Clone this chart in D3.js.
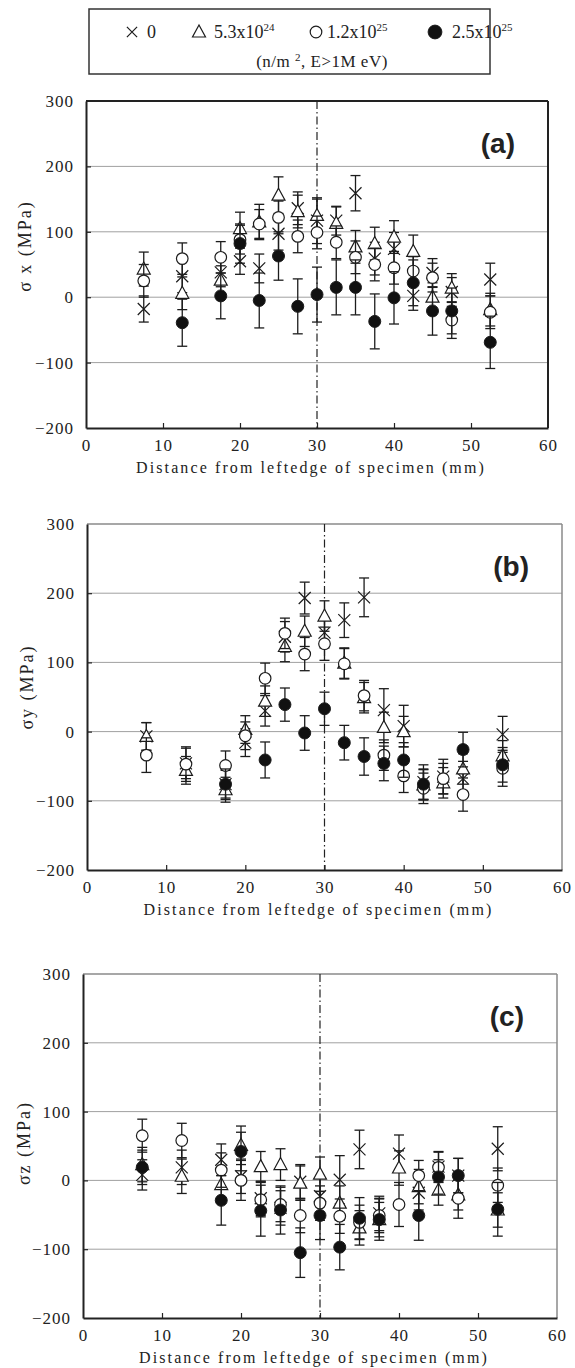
<!DOCTYPE html>
<html>
<head>
<meta charset="utf-8">
<script src="https://cdn.jsdelivr.net/npm/d3@7"></script>
<style>
body { margin: 0; background: #fff; }
svg text { font-family: "Liberation Serif", serif; fill: #222; }
</style>
</head>
<body>
<svg id="chart" width="575" height="1368"></svg>
<script>
// positions along the specimen (mm)
var positions = [7.5, 12.5, 17.5, 20, 22.5, 25, 27.5, 30, 32.5, 35, 37.5, 40, 42.5, 45, 47.5, 52.5];
var yTicks = [-200, -100, 0, 100, 200, 300];
var xTicks = [0, 10, 20, 30, 40, 50, 60];
var seriesNames = ["0", "5.3x10^24", "1.2x10^25", "2.5x10^25"];

// (a) sigma x
var crossA = [-18, 32, 38, 55, 44, 97, 136, 117, 117, 159, 59, 74, 2, 37, 8, 27];
var triA = [43, 6, 26, 105, 115, 156, 131, 125, 113, 77, 82, 92, 70, 0, 14, -19];
var openA = [25, 59, 61, 88, 112, 122, 93, 99, 84, 61, 50, 45, 40, 30, -35, -23];
var fillA = [null, -39, 2, 82, -5, 63, -14, 4, 15, 15, -37, -1, 22, -21, -21, -69];
var errCrossA = [20, 25, 22, 20, 22, 25, 25, 35, 22, 27, 25, 25, 22, 22, 22, 25];
var errTriA = [26, 25, 22, 25, 27, 28, 25, 25, 25, 25, 25, 25, 25, 22, 22, 25];
var errOpenA = [25, 24, 24, 22, 22, 25, 25, 25, 25, 25, 25, 25, 22, 22, 28, 25];
var errFillA = [null, 36, 35, 30, 42, 37, 42, 42, 42, 42, 42, 40, 35, 37, 35, 40];

// (b) sigma y
var crossB = [-7, -46, -76, -16, 30, 137, 193, 143, 161, 194, 31, 8, -73, -65, -68, -4];
var triB = [-7, -56, -84, 3, 44, 123, 145, 167, 99, 49, 6, 0, -77, -74, -54, -35];
var openB = [-34, -47, -49, -6, 77, 142, 112, 127, 98, 52, -34, -64, -82, -68, -91, -53];
var fillB = [null, null, -76, null, -41, 39, -2, 33, -16, -36, -46, -41, -76, null, -26, -48];
var errCrossB = [20, 22, 20, 20, 22, 22, 23, 22, 25, 28, 31, 30, 25, 25, 25, 26];
var errTriB = [20, 20, 18, 20, 22, 22, 22, 22, 22, 22, 22, 22, 22, 22, 22, 22];
var errOpenB = [25, 25, 21, 20, 22, 22, 24, 24, 22, 22, 22, 24, 22, 22, 24, 26];
var errFillB = [null, null, 22, null, 26, 24, 25, 24, 25, 27, 25, 25, 22, null, 25, 25];

// (c) sigma z
var crossC = [8, 19, 30, 6, -26, -40, -2, -23, 1, 45, -48, 39, -18, 20, 7, 46];
var triC = [23, 6, -6, 51, 20, 23, -4, 9, -33, -69, -57, 18, -9, -14, -21, -43];
var openC = [65, 58, 15, 0, -28, -35, -51, -33, -52, -61, -51, -35, 7, 19, -26, -7];
var fillC = [19, null, -29, 42, -44, -43, -105, -51, -97, -55, -57, null, -51, 5, 7, -42];
var errCrossC = [22, 25, 23, 25, 25, 25, 25, 30, 35, 28, 25, 27, 25, 22, 25, 32];
var errTriC = [25, 25, 25, 28, 22, 23, 25, 25, 25, 25, 25, 25, 25, 22, 22, 25];
var errOpenC = [24, 25, 25, 29, 25, 25, 25, 25, 25, 25, 25, 32, 22, 22, 29, 25];
var errFillC = [25, null, 36, 28, 37, 35, 36, 35, 33, 30, 30, null, 36, 25, 25, 39];

var ink = "#1c1c1c";
var serif = "'Liberation Serif', 'DejaVu Serif', serif";
var svg = d3.select("#chart");

var panels = [
    { label: "(a)", title: "\u03c3 x (MPa)", left: 86, right: 548, top: 101, bottom: 428, boxed: true,
      titleY: 246, titleX: 25,
      series: [[crossA, errCrossA], [triA, errTriA], [openA, errOpenA], [fillA, errFillA]] },
    { label: "(b)", title: "\u03c3y (MPa)", left: 87, right: 562, top: 524, bottom: 870, boxed: false,
      titleY: 687, titleX: 27,
      series: [[crossB, errCrossB], [triB, errTriB], [openB, errOpenB], [fillB, errFillB]] },
    { label: "(c)", title: "\u03c3z (MPa)", left: 83, right: 557, top: 974, bottom: 1318, boxed: false,
      titleY: 1143, titleX: 24,
      series: [[crossC, errCrossC], [triC, errTriC], [openC, errOpenC], [fillC, errFillC]] }
];

function drawMarker(g, kind, cx, cy, s) {
    s = s || 1;
    if (kind == 0) {
        var d = 6 * s;
        g.append("path")
            .attr("d", "M" + (cx - d) + "," + (cy - d) + "L" + (cx + d) + "," + (cy + d) +
                       "M" + (cx - d) + "," + (cy + d) + "L" + (cx + d) + "," + (cy - d))
            .attr("stroke", ink).attr("stroke-width", 1.2).attr("fill", "none");
    } else if (kind == 1) {
        g.append("path")
            .attr("d", "M" + cx + "," + (cy - 7 * s) + "L" + (cx + 6.5 * s) + "," + (cy + 5 * s) +
                       "L" + (cx - 6.5 * s) + "," + (cy + 5 * s) + "Z")
            .attr("stroke", ink).attr("stroke-width", 1.2).attr("fill", "#fff");
    } else if (kind == 2) {
        g.append("circle").attr("cx", cx).attr("cy", cy).attr("r", 5.8 * s)
            .attr("stroke", ink).attr("stroke-width", 1.2).attr("fill", "#fff");
    } else {
        g.append("circle").attr("cx", cx).attr("cy", cy).attr("r", 6 * s)
            .attr("stroke", ink).attr("stroke-width", 1).attr("fill", "#111");
    }
}

panels.forEach(function(p) {
    var x = d3.scaleLinear().domain([0, 60]).range([p.left, p.right]);
    var y = d3.scaleLinear().domain([-200, 300]).range([p.bottom, p.top]);
    var g = svg.append("g");

    // grid
    g.selectAll("line.grid")
        .data([-100, 0, 100, 200])
        .enter().append("line")
        .attr("x1", p.left).attr("x2", p.right)
        .attr("y1", function(d) { return y(d); })
        .attr("y2", function(d) { return y(d); })
        .attr("stroke", "#a0a0a0").attr("stroke-width", 1);

    // frame
    var frameCol = p.boxed ? "#222" : "#8a8a8a";
    var frameW = p.boxed ? 2 : 1.5;
    g.append("line").attr("x1", p.left).attr("x2", p.right).attr("y1", p.top).attr("y2", p.top)
        .attr("stroke", frameCol).attr("stroke-width", frameW);
    g.append("line").attr("x1", p.right).attr("x2", p.right).attr("y1", p.top).attr("y2", p.bottom)
        .attr("stroke", frameCol).attr("stroke-width", frameW);

    // axes
    var ax = g.append("g").attr("transform", "translate(0," + p.bottom + ")")
        .call(d3.axisBottom(x).tickValues(xTicks).tickSizeInner(-5).tickSizeOuter(0).tickPadding(11));
    var ay = g.append("g").attr("transform", "translate(" + p.left + ",0)")
        .call(d3.axisLeft(y).tickValues(yTicks).tickSizeInner(-5).tickSizeOuter(0).tickPadding(12));
    [ax, ay].forEach(function(a) {
        a.attr("font-family", serif).attr("font-size", 16);
        a.select(".domain").attr("stroke", "#222").attr("stroke-width", 2);
        a.selectAll(".tick line").attr("stroke", "#222").attr("stroke-width", 1.2);
        a.selectAll(".tick text").style("font-family", serif)
            .style("font-size", "17px").attr("fill", "#333").style("letter-spacing", "1px");
    });
    ax.selectAll(".tick").filter(function(d) { return d == 0 || d == 60; }).select("line").remove();
    ay.selectAll(".tick").filter(function(d) { return d == 300 || d == -200; }).select("line").remove();

    // centre line
    g.append("line").attr("x1", x(30)).attr("x2", x(30)).attr("y1", p.top).attr("y2", p.bottom)
        .attr("stroke", "#222").attr("stroke-width", 1.2).attr("stroke-dasharray", "8,3,1.5,3");

    // series
    p.series.forEach(function(s, k) {
        var vals = s[0], errs = s[1];
        var sg = g.append("g");
        vals.forEach(function(v, i) {
            if (v == null) return;
            var cx = x(positions[i]);
            var e = errs[i];
            sg.append("line").attr("x1", cx).attr("x2", cx).attr("y1", y(v - e)).attr("y2", y(v + e))
                .attr("stroke", ink).attr("stroke-width", 1.3);
            [v - e, v + e].forEach(function(t) {
                sg.append("line").attr("x1", cx - 5).attr("x2", cx + 5).attr("y1", y(t)).attr("y2", y(t))
                    .attr("stroke", ink).attr("stroke-width", 1.3);
            });
        });
        vals.forEach(function(v, i) {
            if (v == null) return;
            drawMarker(sg, k, x(positions[i]), y(v));
        });
    });

    // panel label
    g.append("text").attr("x", p.right - 33).attr("y", p.top + 52).attr("text-anchor", "end")
        .style("font-family", "'Liberation Sans', Arial, sans-serif").style("font-weight", "bold")
        .style("font-size", "28px").attr("fill", "#222").text(p.label);

    // axis titles
    g.append("text").attr("x", (p.left + p.right) / 2 - 6).attr("y", p.bottom + 45)
        .attr("text-anchor", "middle").style("font-family", serif).style("font-size", "16px")
        .style("letter-spacing", "2.1px")
        .text("Distance from leftedge of specimen (mm)");
    g.append("text").attr("transform", "translate(" + (p.titleX + 6) + "," + p.titleY + ") rotate(-90)")
        .attr("text-anchor", "middle").style("font-family", serif).style("font-size", "18px")
        .style("letter-spacing", "2px")
        .text(p.title);
});

// legend
var lg = svg.append("g");
lg.append("rect").attr("x", 89).attr("y", 9).attr("width", 401).attr("height", 65)
    .attr("fill", "#fff").attr("stroke", "#333").attr("stroke-width", 1.5);
var legendX = [132, 199, 316, 435];
var legendTextX = [147, 214, 327, 452];
seriesNames.forEach(function(name, k) {
    if (k == 0) {
        drawMarker(lg, 0, legendX[k], 32, 0.85);
    } else {
        drawMarker(lg, k, legendX[k], 32, k == 3 ? 1.15 : 1);
    }
    var parts = name.split("^");
    var t = lg.append("text").attr("x", legendTextX[k]).attr("y", 38)
        .style("font-family", serif).style("font-size", "18px");
    t.append("tspan").text(parts[0]);
    if (parts[1]) t.append("tspan").attr("dy", -7).style("font-size", "11px").text(parts[1]);
});
var l2 = lg.append("text").attr("x", 322).attr("y", 67).attr("text-anchor", "middle")
    .style("font-family", serif).style("font-size", "17px").style("letter-spacing", "0.5px");
l2.append("tspan").text("(n/m ");
l2.append("tspan").attr("dy", -6).style("font-size", "11px").text("2");
l2.append("tspan").attr("dy", 6).text(", E>1M eV)");
</script>
</body>
</html>
